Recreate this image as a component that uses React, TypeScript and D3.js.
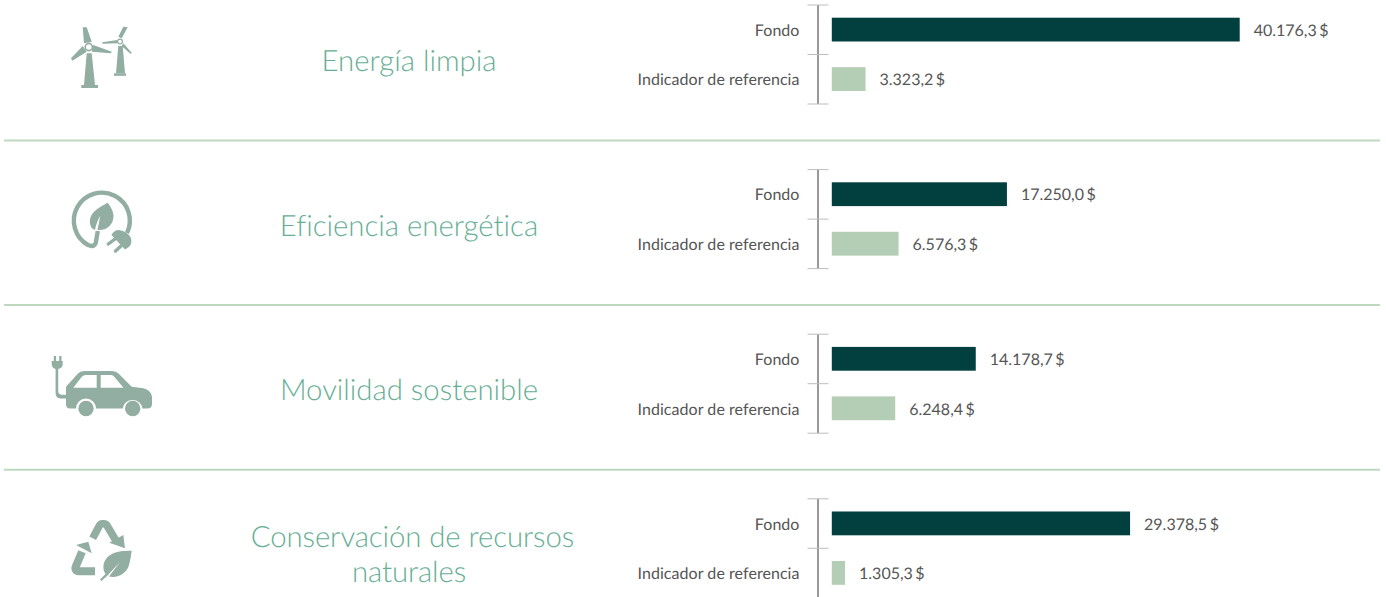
import React from "react";
import * as d3 from "d3";

const W = 1386, H = 597;
const themes = ["Energía limpia", "Eficiencia energética", "Movilidad sostenible", "Conservación de recursos|naturales"];
const seriesNames = ["Fondo", "Indicador de referencia"];
const fondo = [40176.3, 17250.0, 14178.7, 29378.5];
const indicador = [3323.2, 6576.3, 6248.4, 1305.3];

const ROW = 164.6;
const x = d3.scaleLinear().domain([0, 40176.3]).range([831.8, 1239.7]);
const fmt = (v: number) => {
  const s = v.toFixed(1);
  const [a, b] = s.split(".");
  return a.replace(/\B(?=(\d{3})+$)/g, ".") + "," + b + " $";
};
const ICON = "#92ADA1";

function Wind() {
  return (
    <g fill={ICON}>
      <path d="M82.7 27.3 L86.7 27.3 L91.7 41.7 L84 43.3Z" />
      <path d="M93.3 45 L111.7 51.7 L111 53.3 L91.7 51.7Z" />
      <path d="M82.7 46 L71 58.3 L72.3 60.7 L86.7 51.7Z" />
      <circle cx="88.8" cy="47" r="3.6" fill="none" stroke={ICON} strokeWidth="1.6" />
      <path d="M86.7 53.3 L91.7 53.3 L95 85 L84 85Z" />
      <rect x="81.3" y="85" width="16.7" height="3" />
      <path d="M123.3 26.7 L127.7 27.3 L121.7 38.3 L118.3 36.7Z" />
      <path d="M102.3 42.3 L117.3 40 L117.3 43.3 L102.3 43.7Z" />
      <path d="M123.3 43.3 L131.7 52.7 L130.7 54 L121.7 46Z" />
      <circle cx="120" cy="41.6" r="2.4" fill="none" stroke={ICON} strokeWidth="1.2" />
      <path d="M118.3 46 L122.7 46 L125 73.3 L116 73.3Z" />
      <rect x="114" y="73.3" width="12" height="2.5" />
    </g>
  );
}

function Plug() {
  return (
    <g fill={ICON}>
      <path d="M127 233 A28 28 0 1 0 88 245 Q 95 248 96 241.5 L 97.8 231"
        fill="none" stroke={ICON} strokeWidth="4.4" />
      <path d="M107.7 202.7 C 100 207, 89 212, 90 223 C90.5 227 92 229 95 230 C 96 224 98 220 100 216 C 99.5 222 98 226 97.5 230 C 107 231 114 224 113.5 215 C113 210 110 206 107.7 202.7Z" />
      <path d="M111.5 235 L125 249.5 Q 133 246 131 238 Q 127 231 119 230 Q 114 230 111.5 235Z" />
      <path d="M115 239 L108.3 244 M121 246 L115.5 251" stroke={ICON} strokeWidth="3.4" strokeLinecap="round" fill="none" />
    </g>
  );
}

function Car() {
  return (
    <g fill={ICON}>
      <rect x="53.8" y="356" width="2.3" height="6" />
      <rect x="59.2" y="356" width="2.3" height="6" />
      <path d="M51.7 361 H62.7 V364 Q62.7 368 58.2 369 V390.5 Q58.2 394.8 62 394.8 H68 V398.4 H60.5 Q55.6 398.4 55.6 393 V369 Q51.7 368 51.7 364Z" />
      <path fillRule="evenodd" d="M66 386.7 L78 373.5 Q80 371 84 371 H112 Q116 371 119 374 L131.7 386.7 L143.3 388.3 Q151 390 152 397 V404 Q152 408.5 147 408.5 H142.5 A10 10 0 0 0 122.7 408.5 H96 A10 10 0 0 0 76 408.5 H70 Q66 408.5 66 404Z
        M73.3 387.7 H96.7 V375 H85.5 Q83.5 375 82 376.5Z M100.7 387.7 H123.5 L114.5 377 Q113 375 111 375 H100.7Z" />
      <circle cx="86" cy="408.5" r="7.7" />
      <circle cx="132.7" cy="408.5" r="7.7" />
    </g>
  );
}

function Recycle() {
  return (
    <g fill={ICON}>
      <path d="M92.7 538.3 L99.5 525.5 Q100.6 523.8 102.5 523.8 H104 Q106 523.8 107 525.5 L116 540.7" fill="none" stroke={ICON} strokeWidth="7.6" />
      <path d="M123.3 535 L125 548.3 L109.3 542.7Z" />
      <path d="M95 571.3 H79 Q74 571 76 566 L82 551.7" fill="none" stroke={ICON} strokeWidth="8" />
      <path d="M76 545 L88.3 541.7 L91.7 553.3Z" />
      <path d="M131.7 550.7 C 118 550.5, 106 553, 103.5 565 C 103 569, 104 572, 105.5 574 L 100 579.5 L 101.5 581 L 107.5 575.5 L 120 562 L 109 576.5 C 118 578.5, 127 573, 129 565 C 130.5 560 131 555 131.7 550.7Z" />
    </g>
  );
}
const icons = [Wind, Plug, Car, Recycle];

export default function App() {
  return (
    <svg width={W} height={H} style={{ position: "absolute", left: 0, top: 0, background: "#fff", fontVariantLigatures: "none" }} fontFamily="Lato" textRendering="geometricPrecision">
      {themes.map((t, i) => {
        const off = i * ROW;
        const Icon = icons[i];
        const lines = t.split("|");
        const vals = [fondo[i], indicador[i]];
        const colors = ["#023F3F", "#B3CEB4"];
        return (
          <g key={t}>
            <Icon />
            {i < 3 && <line x1={4} x2={1380} y1={140.5 + off} y2={140.5 + off} stroke="#BFD8C0" strokeWidth={2} />}
            {lines.map((l, k) => (
              <text key={k} x={lines.length > 1 && k === 0 ? 412.4 : 409} y={(lines.length === 1 ? 71 : 546.5) + (lines.length === 1 ? off : k * 35)}
                textAnchor="middle" fontSize={29.33} fontWeight={300} letterSpacing={lines.length > 1 ? -0.08 : 0} fill="#66AE94">{l}</text>
            ))}
            <line x1={818} x2={818} y1={5 + off} y2={104 + off} stroke="#6E6E6E" strokeWidth={1.4} />
            {[5, 54.5, 104].map((y) => (
              <line key={y} x1={807.5} x2={828.5} y1={y + off} y2={y + off} stroke="#BDBDBD" strokeWidth={1} />
            ))}
            {vals.map((v, k) => {
              const cy = 29.6 + k * 49.5 + off;
              return (
                <g key={k}>
                  <rect x={x(0)} y={cy - 11.9} width={x(v) - x(0)} height={23.8} fill={colors[k]} />
                  <text x={799.5} y={cy + 6.2} textAnchor="end" fontSize={16} letterSpacing={0.05} fill="#555">{seriesNames[k]}</text>
                  <text x={x(v) + 14} y={cy + 6.2} fontSize={16} wordSpacing={-1.6} fill="#555">{fmt(v)}</text>
                </g>
              );
            })}
          </g>
        );
      })}
    </svg>
  );
}
